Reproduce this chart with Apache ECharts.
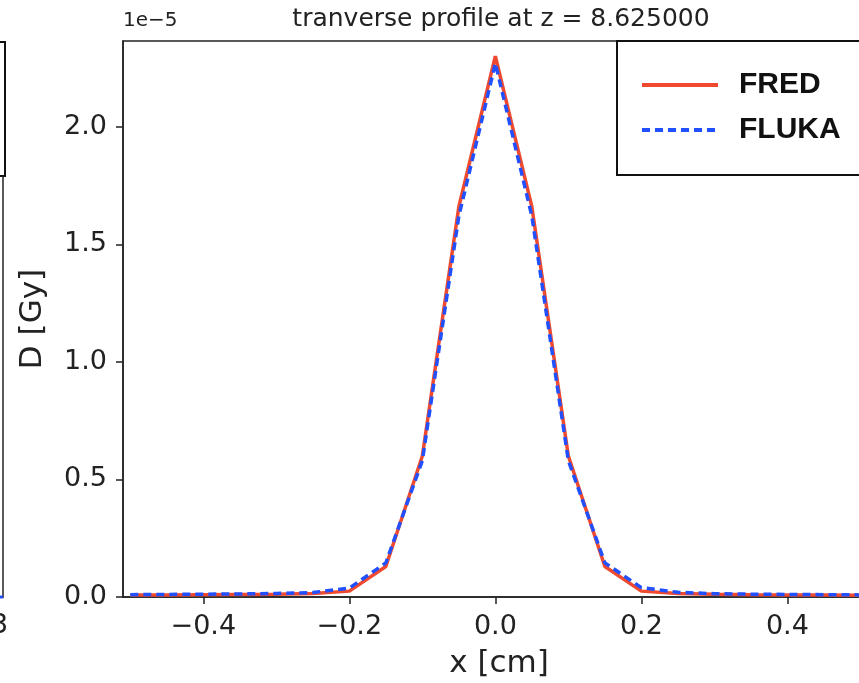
<!DOCTYPE html>
<html>
<head>
<meta charset="utf-8">
<script src="https://cdn.jsdelivr.net/npm/echarts@6/dist/echarts.min.js"></script>
<style>
  html, body { margin: 0; padding: 0; background: #fff; }
  #chart { width: 859px; height: 683px; }
</style>
</head>
<body>
<div id="chart"></div>
<script>
// positions along x [cm]
var xPos = [-0.5, -0.45, -0.4, -0.35, -0.3, -0.25, -0.2, -0.15, -0.1, -0.05, 0,
             0.05, 0.1, 0.15, 0.2, 0.25, 0.3, 0.35, 0.4, 0.45, 0.5];
// dose, units of 1e-5 Gy
var fred  = [0.008, 0.009, 0.010, 0.011, 0.012, 0.015, 0.025, 0.13, 0.60, 1.66, 2.30,
             1.66, 0.60, 0.13, 0.025, 0.015, 0.012, 0.010, 0.009, 0.008, 0.007];
var fluka = [0.010, 0.011, 0.012, 0.013, 0.015, 0.019, 0.038, 0.145, 0.58, 1.62, 2.27,
             1.62, 0.58, 0.145, 0.04, 0.02, 0.014, 0.012, 0.011, 0.010, 0.009];
var xTicks = [-0.4, -0.2, 0.0, 0.2, 0.4];
var yTicks = [0.0, 0.5, 1.0, 1.5, 2.0];

function pairs(ys) {
  return xPos.map(function (x, i) { return [x, ys[i]]; });
}
function fmt(v) {
  return v.toFixed(1).replace('-', '\u2212');
}

var myChart = echarts.init(document.getElementById('chart'));
var tickFont = { fontFamily: 'DejaVu Sans', fontSize: 27, color: '#222' };

var option = {
  animation: false,
  backgroundColor: '#fff',
  title: {
    text: 'tranverse profile at z = 8.625000',
    left: 496,
    textAlign: 'center',
    top: 2,
    textStyle: { fontFamily: 'DejaVu Sans', fontSize: 25, fontWeight: 'normal', color: '#222' }
  },
  grid: {
    left: 123,
    top: 41,
    width: 752,
    height: 556,
    outerBoundsMode: 'none',
    containLabel: false,
    show: true,
    borderColor: '#222',
    borderWidth: 1.5,
    backgroundColor: 'transparent'
  },
  legend: {
    orient: 'vertical',
    left: 617,
    top: 41,
    padding: [29, 40, 30, 23],
    itemGap: 15,
    itemWidth: 76,
    itemHeight: 30,
    borderColor: '#111',
    borderWidth: 2,
    borderRadius: 0,
    backgroundColor: '#fff',
    itemStyle: { opacity: 0 },
    lineStyle: { width: 4 },
    textStyle: { fontFamily: 'Liberation Sans', fontSize: 30, lineHeight: 30, fontWeight: 'bold', color: '#111', padding: [0, 0, 0, 16] },
    data: ['FRED', 'FLUKA']
  },
  xAxis: {
    type: 'value',
    min: -0.51,
    max: 0.52,
    name: 'x [cm]',
    nameLocation: 'middle',
    nameGap: 51,
    nameTextStyle: { fontFamily: 'DejaVu Sans', fontSize: 31, color: '#222' },
    axisLine: { show: true, onZero: false, lineStyle: { color: '#222', width: 1.5 } },
    axisTick: { show: true, length: 7, lineStyle: { color: '#222', width: 1.5 }, customValues: xTicks },
    axisLabel: { show: true, margin: 16, customValues: xTicks, formatter: fmt, textStyle: tickFont },
    splitLine: { show: false }
  },
  yAxis: {
    type: 'value',
    min: 0,
    max: 2.365,
    name: 'D [Gy]',
    nameLocation: 'middle',
    nameGap: 75,
    nameTextStyle: { fontFamily: 'DejaVu Sans', fontSize: 31, color: '#222' },
    axisLine: { show: true, onZero: false, lineStyle: { color: '#222', width: 1.5 } },
    axisTick: { show: true, length: 7, lineStyle: { color: '#222', width: 1.5 }, customValues: yTicks },
    axisLabel: { show: true, margin: 16, customValues: yTicks, formatter: fmt, textStyle: tickFont },
    splitLine: { show: false }
  },
  graphic: [
    // offset text of the y axis
    { type: 'text', left: 123, top: 11, style: { text: '1e\u22125', fontFamily: 'DejaVu Sans', fontSize: 20, fill: '#222' } },
    // neighbour panel fragment on the left edge
    { type: 'rect', shape: { x: -10, y: 42, width: 15, height: 134 }, style: { fill: '#fff', stroke: '#111', lineWidth: 2 } },
    { type: 'line', shape: { x1: 3, y1: 176, x2: 3, y2: 598 }, style: { stroke: '#222', lineWidth: 1.5 } },
    { type: 'line', shape: { x1: 0, y1: 597, x2: 3, y2: 597 }, style: { stroke: '#2050ff', lineWidth: 3 } },
    { type: 'text', x: -9, y: 612, style: { text: '3', fontFamily: 'DejaVu Sans', fontSize: 27, fill: '#222' } }
  ],
  series: [
    {
      name: 'FRED',
      type: 'line',
      symbol: 'none',
      color: '#ef4a2f',
      lineStyle: { color: '#ef4a2f', width: 3.5 },
      data: pairs(fred),
      z: 2
    },
    {
      name: 'FLUKA',
      type: 'line',
      symbol: 'none',
      color: '#2050ff',
      lineStyle: { color: '#2050ff', width: 3.5, type: [8, 5] },
      data: pairs(fluka),
      z: 3
    }
  ]
};
myChart.setOption(option);
</script>
</body>
</html>
